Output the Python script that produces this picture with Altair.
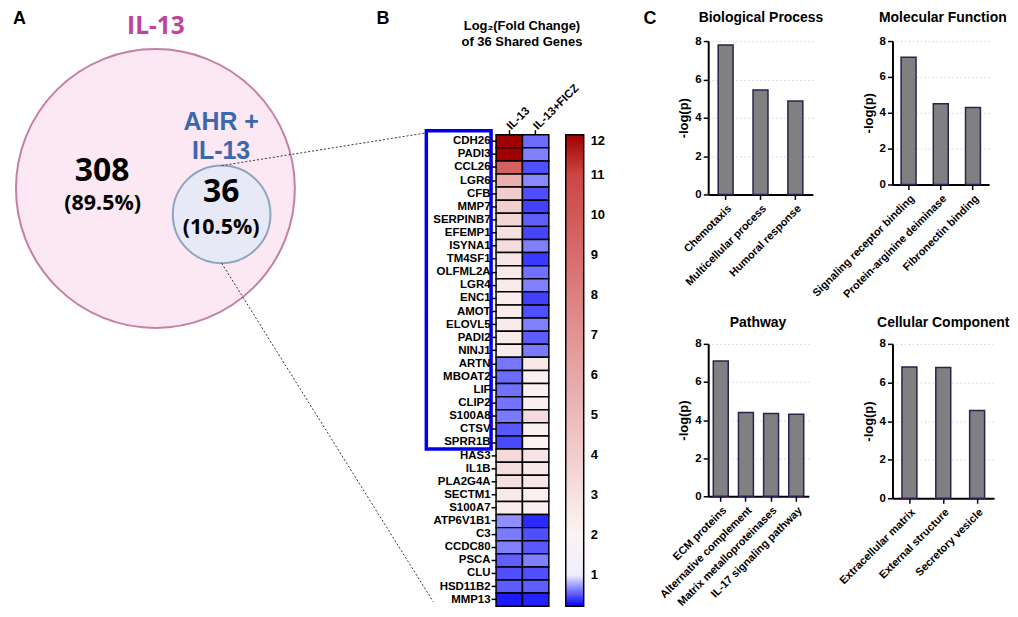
import altair as alt
import pandas as pd

F = "Liberation Sans, Arial, sans-serif"
FV = "Open Sans, Liberation Sans, sans-serif"

# ---------------- Panel A : Venn ----------------
venn_sets = ["IL-13", "AHR +\nIL-13"]
venn_role = ["all", "shared"]
venn_counts = [308, 36]
venn_pcts = ["(89.5%)", "(10.5%)"]

# ---------------- Panel B : heatmap ----------------
genes = ["CDH26", "PADI3", "CCL26", "LGR6", "CFB", "MMP7", "SERPINB7", "EFEMP1",
         "ISYNA1", "TM4SF1", "OLFML2A", "LGR4", "ENC1", "AMOT", "ELOVL5", "PADI2",
         "NINJ1", "ARTN", "MBOAT2", "LIF", "CLIP2", "S100A8", "CTSV", "SPRR1B",
         "HAS3", "IL1B", "PLA2G4A", "SECTM1", "S100A7", "ATP6V1B1", "C3", "CCDC80",
         "PSCA", "CLU", "HSD11B2", "MMP13"]
conditions = ["IL-13", "IL-13+FICZ"]
fc_il13 = [12.0, 12.0, 9.6, 5.5, 4.05, 3.9, 3.6, 3.1, 3.2, 2.7, 2.6, 2.5, 2.4, 2.4,
           2.5, 2.5, 2.4, 0.61, 0.57, 0.59, 0.60, 0.62, 0.51, 0.46, 3.4, 3.2, 3.1,
           2.5, 2.4, 0.69, 0.62, 0.64, 0.53, 0.48, 0.52, 0.31]
fc_ficz = [0.57, 0.64, 0.48, 0.67, 0.48, 0.43, 0.53, 0.45, 0.64, 0.41, 0.59, 0.64,
           0.43, 0.48, 0.64, 0.52, 0.62, 2.6, 2.2, 2.2, 2.3, 3.3, 2.2, 2.1, 2.8,
           2.6, 2.7, 2.3, 2.3, 0.36, 0.48, 0.51, 0.64, 0.48, 0.53, 0.33]
legend_ticks = [1, 2, 3, 4, 5, 6, 7, 8, 9, 10, 11, 12]
boxed_first, boxed_last = "CDH26", "SPRR1B"

# ---------------- Panel C : enrichment bars ----------------
bp_terms = ["Chemotaxis", "Multicellular process", "Humoral response"]
bp_vals = [7.8, 5.45, 4.88]
mf_terms = ["Signaling receptor binding", "Protein-arginine deiminase", "Fibronectin binding"]
mf_vals = [7.1, 4.5, 4.3]
pw_terms = ["ECM proteins", "Alternative complement", "Matrix metalloproteinases",
            "IL-17 signaling pathway"]
pw_vals = [7.1, 4.4, 4.35, 4.3]
cc_terms = ["Extracellular matrix", "External structure", "Secretory vesicle"]
cc_vals = [6.8, 6.78, 4.55]

VENN_W, HEAT_W, GAP_B, BAR_W1, GAP_C = 487, 53, 160, 105, 80
HEAT_TOP, HEAT_LEN = 94, 473.4


def letter(t, x, y):
    return alt.Chart(pd.DataFrame({"t": [t]})).mark_text(
        font=F, fontSize=18, fontWeight="bold", color="black",
        align="left", baseline="alphabetic"
    ).encode(text="t:N", x=alt.value(x), y=alt.value(y))


# ----- Venn -----
venn_df = pd.DataFrame({"set": venn_sets, "role": venn_role,
                        "count": venn_counts, "pct": venn_pcts})
vb = alt.Chart(venn_df)
big = vb.transform_filter(alt.datum.role == "all")
small = vb.transform_filter(alt.datum.role == "shared")
blue = "#3b67ae"
dot = dict(strokeDash=[2, 2], color="#333333", strokeWidth=1)
SX = 3  # small extra shift of the Venn drawing

venn = alt.layer(
    big.mark_circle(size=78400, color="#fce8f3", opacity=1, stroke="#c47fa5",
                    strokeWidth=2).encode(x=alt.value(142 + SX), y=alt.value(148)),
    small.mark_circle(size=9604, color="#e7e9f6", opacity=1, stroke="#8ea4bf",
                      strokeWidth=2).encode(x=alt.value(208.5 + SX), y=alt.value(174)),
    big.mark_text(font=FV, fontSize=24.5, fontWeight="bold", color="#c0429a",
                  baseline="alphabetic").encode(text="set:N", x=alt.value(142.5 + SX), y=alt.value(-7)),
    big.mark_text(font=FV, fontSize=32, fontWeight="bold", color="black",
                  baseline="alphabetic").encode(text="count:Q", x=alt.value(88.5 + SX), y=alt.value(140.5)),
    big.mark_text(font=FV, fontSize=21.5, fontWeight="bold", color="black",
                  baseline="alphabetic").encode(text="pct:N", x=alt.value(89 + SX), y=alt.value(169.5)),
    small.mark_text(font=F, fontSize=25, fontWeight="bold", color=blue, lineBreak="\n",
                    lineHeight=29, baseline="alphabetic").encode(text="set:N", x=alt.value(208 + SX), y=alt.value(89.5)),
    small.mark_text(font=FV, fontSize=32, fontWeight="bold", color="black",
                    baseline="alphabetic").encode(text="count:Q", x=alt.value(208 + SX), y=alt.value(161.5)),
    small.mark_text(font=FV, fontSize=21.5, fontWeight="bold", color="black",
                    baseline="alphabetic").encode(text="pct:N", x=alt.value(208 + SX), y=alt.value(193.5)),
    small.mark_rule(**dot).encode(x=alt.value(208.5 + SX), y=alt.value(125),
                                  x2=alt.value(415), y2=alt.value(92.5)),
    small.mark_rule(**dot).encode(x=alt.value(208.5 + SX), y=alt.value(223),
                                  x2=alt.value(424), y2=alt.value(563)),
    letter("A", 2, -17.5),
    letter("B", 367, -17.5),
).properties(width=VENN_W, height=154)

# ----- Heatmap -----
heat_df = pd.DataFrame({
    "gene": genes * 2,
    "condition": [conditions[0]] * len(genes) + [conditions[1]] * len(genes),
    "value": fc_il13 + fc_ficz,
})
yscale = alt.Scale(domain=genes, range=[HEAT_TOP, HEAT_TOP + HEAT_LEN],
                   paddingInner=0, paddingOuter=0)
yaxis = alt.Axis(title=None, domain=False, tickColor="black", tickSize=5,
                 tickWidth=1.5, labelFont=F, labelFontSize=11.5,
                 labelFontWeight="bold", labelColor="black", labelPadding=1)

heat_rect = alt.Chart(heat_df).mark_rect(stroke="black", strokeWidth=1.5).encode(
    x=alt.X("condition:N", scale=alt.Scale(domain=conditions, paddingInner=0, paddingOuter=0),
            axis=alt.Axis(orient="top", offset=-HEAT_TOP, title=None, labelAngle=-45,
                          labelAlign="left", labelBaseline="middle", domain=False,
                          tickColor="black", tickSize=5, tickWidth=1.5, labelFont=F,
                          labelFontSize=11.5, labelFontWeight="bold", labelColor="black",
                          labelPadding=2)),
    y=alt.Y("gene:N", scale=yscale, axis=yaxis),
    color=alt.Color("value:Q",
                    scale=alt.Scale(domain=[0.22, 1.0, 2.0, 11.8, 12.0],
                                    range=["#0000ff", "#eeeefc", "#fcf4f4", "#c93535", "#a00000"],
                                    interpolate="rgb", clamp=True),
                    legend=alt.Legend(orient="none", legendX=VENN_W + 70, legendY=HEAT_TOP,
                                      direction="vertical", type="gradient",
                                      gradientLength=HEAT_LEN, gradientThickness=18,
                                      title=None, values=legend_ticks, labelFont=F,
                                      labelFontSize=13, labelFontWeight="bold",
                                      labelColor="black", labelOffset=7, padding=0,
                                      gradientStrokeColor="black", gradientStrokeWidth=1.5,
                                      labelBaseline="middle", labelOverlap=False)),
)

box = alt.Chart(pd.DataFrame({"gene": [boxed_first], "gene_end": [boxed_last]})).mark_rect(
    fillOpacity=0, stroke="#0000ee", strokeWidth=3.5, yOffset=-4
).encode(
    x=alt.value(-70), x2=alt.value(-5),
    y=alt.Y("gene:N", scale=yscale, axis=yaxis, bandPosition=0),
    y2=alt.Y2("gene_end", bandPosition=1),
)

heat_title = alt.Chart(pd.DataFrame({"t": [f"Log\u2082(Fold Change)\nof {len(genes)} Shared Genes"]})).mark_text(
    font=F, fontSize=13, fontWeight="bold", color="black", lineBreak="\n",
    lineHeight=16, baseline="alphabetic"
).encode(text="t:N", x=alt.value(26), y=alt.value(-11.5))

heat = alt.layer(heat_rect, box, heat_title).properties(width=HEAT_W, height=154)


# ----- Bars -----
def bar_panel(title, terms, vals, w, h, tx, ty, extra=None):
    df = pd.DataFrame({"term": terms, "value": vals})
    bars = alt.Chart(df).mark_bar(size=15, fill="#808080", stroke="#2e2050",
                                  strokeWidth=1.5).encode(
        x=alt.X("term:N", scale=alt.Scale(domain=terms, paddingInner=0, paddingOuter=0),
                axis=alt.Axis(title=None, labelAngle=-45, labelAlign="right",
                              labelBaseline="top", labelFont=F, labelFontSize=11,
                              labelFontWeight="bold", labelColor="black", labelPadding=3,
                              domainColor="black", domainWidth=2, tickColor="black",
                              tickWidth=1.5, tickSize=5, grid=False, labelLimit=300)),
        y=alt.Y("value:Q", scale=alt.Scale(domain=[0, 8], nice=False),
                axis=alt.Axis(title="-log(p)", values=[0, 2, 4, 6, 8], titleFont=F,
                              titleFontSize=13, titleFontWeight="bold", titleColor="black",
                              titlePadding=4, labelFont=F, labelFontSize=11.5,
                              labelFontWeight="bold", labelColor="black", labelPadding=2,
                              domainColor="black", domainWidth=2, tickColor="black",
                              tickWidth=1.5, tickSize=5, grid=True, gridColor="#bdbdbd",
                              gridDash=[1, 3], gridWidth=1)),
    )
    ttl = alt.Chart(pd.DataFrame({"t": [title]})).mark_text(
        font=F, fontSize=14, fontWeight="bold", color="black", baseline="alphabetic"
    ).encode(text="t:N", x=alt.value(tx), y=alt.value(ty))
    layers = [bars, ttl]
    if extra is not None:
        layers.append(extra)
    return alt.layer(*layers).properties(width=w, height=h)


bp = bar_panel("Biological Process", bp_terms, bp_vals, BAR_W1, 154, 53, -19,
               letter("C", -65, -17.5))
mf = bar_panel("Molecular Function", mf_terms, mf_vals, 97, 144, 50.5, -19)
pw = bar_panel("Pathway", pw_terms, pw_vals, 101, 153, 50, -17)
cc = bar_panel("Cellular Component", cc_terms, cc_vals, 102, 155, 51, -17)


def blank(w, h=1):
    return alt.Chart(pd.DataFrame({"b": [0]})).mark_point(opacity=0).encode(
        x=alt.value(w / 2), y=alt.value(0)).properties(width=w, height=h)


chart = alt.concat(
    venn, heat, blank(GAP_B), bp, blank(GAP_C), mf,
    blank(1), blank(1), blank(1), pw, blank(1), cc,
    columns=6,
    spacing={"row": 150, "column": 0},
    bounds="flush",
    align="each",
).configure_view(stroke=None).properties(padding=0)

chart.save("out.html", embed_options={"renderer": "svg", "actions": False})
